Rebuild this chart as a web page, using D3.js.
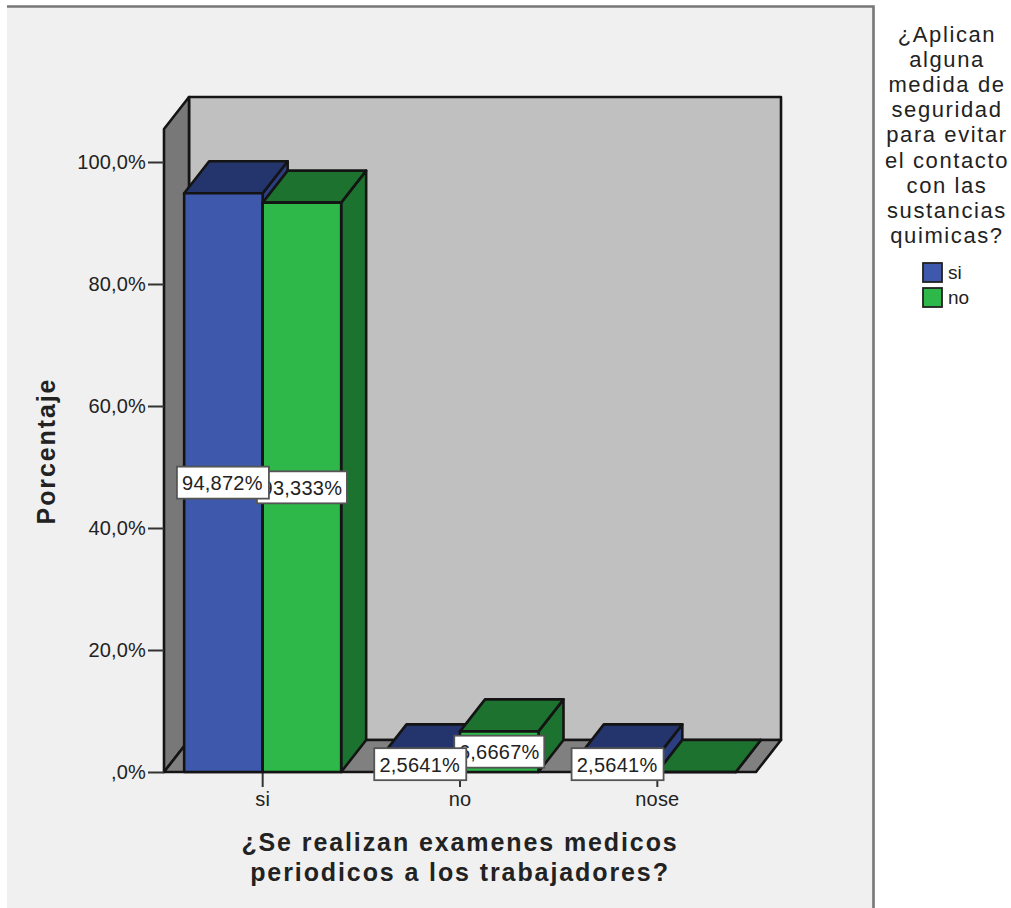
<!DOCTYPE html>
<html><head><meta charset="utf-8">
<script src="https://cdn.jsdelivr.net/npm/d3@7"></script>
<style>html,body{margin:0;padding:0;background:#fff}svg{display:block}text{font-family:"Liberation Sans",Arial,sans-serif;fill:#222}</style>
</head><body><div id="c"></div>
<script>
const categories=["si","no","nose"];
const seriesNames=["si","no"];
const siValues=[94.872,2.5641,2.5641];
const noValues=[93.333,6.6667,0];
const valueLabelsSi=["94,872%","2,5641%","2,5641%"];
const valueLabelsNo=["93,333%","6,6667%",null];
const yTicks=[0,20,40,60,80,100];
const legendTitle=["¿Aplican","alguna","medida de","seguridad","para evitar","el contacto","con las","sustancias","quimicas?"];
const xTitle=["¿Se realizan examenes medicos","periodicos a los trabajadores?"];
const yTitle="Porcentaje";

const W=1011,H=908,dx=25,dy=-32,dark="#141414";
const svg=d3.select("#c").append("svg").attr("width",W).attr("height",H);
const x=d3.scaleBand().domain(categories).range([164,756]);
const xs=d3.scaleBand().domain(seriesNames).range([x.bandwidth()/2-78.5,x.bandwidth()/2+78.5]);
const y=d3.scaleLinear().domain([0,100]).range([772,162]);
const yTop=105.4;
const fmtTick=d=>d===0?",0%":d3.format(".1f")(d).replace(".",",")+"%";
const poly=(pts,fill,g=svg)=>g.append("polygon").attr("points",pts.map(p=>p.join(",")).join(" "))
  .attr("fill",fill).attr("stroke",dark).attr("stroke-width",2.6).attr("stroke-linejoin","round");

// frame
svg.append("rect").attr("x",7).attr("y",6).attr("width",867).attr("height",H).attr("fill","#f0f0f0");
svg.append("path").attr("d",`M7,6.5H873.5V${H}`).attr("fill","none").attr("stroke","#777").attr("stroke-width",2.6);

// 3D box
const [xL,xR]=x.range(), y0=y(0), yT=y(yTop);
poly([[xL+dx,y0+dy],[xR+dx,y0+dy],[xR+dx,yT+dy],[xL+dx,yT+dy]],"#c0c0c0");
poly([[xL,y0],[xL+dx,y0+dy],[xL+dx,yT+dy],[xL,yT]],"#787878");
poly([[xL,y0],[xR,y0],[xR+dx,y0+dy],[xL+dx,y0+dy]],"#808080");

// axes
const yAxis=d3.axisLeft(y).tickValues(yTicks).tickFormat(fmtTick).tickSize(16).tickPadding(2);
const ga=svg.append("g").attr("transform",`translate(${xL},0)`).call(yAxis);
ga.select(".domain").remove();
ga.selectAll("line").attr("stroke","#333").attr("stroke-width",2);
ga.selectAll("text").attr("font-size",20).attr("letter-spacing",0.15).style("fill","#222");
const xAxis=d3.axisBottom(x).tickSize(15).tickPadding(5);
const gb=svg.append("g").attr("transform",`translate(0,${y0})`).call(xAxis);
gb.select(".domain").remove();
gb.selectAll("line").attr("stroke","#333").attr("stroke-width",2);
gb.selectAll("text").attr("font-size",20).attr("letter-spacing",0.15).style("fill","#222");

// bars
const colors={si:{front:"#3e58ac",top:"#24356d",side:"#2b3e80"},no:{front:"#2eb84a",top:"#1c722e",side:"#1c732f"}};
const seriesData=[{name:"si",values:siValues,labels:valueLabelsSi},{name:"no",values:noValues,labels:valueLabelsNo}];
categories.forEach((cat,i)=>{
  seriesData.forEach(s=>{
    const v=s.values[i],c=colors[s.name];
    const a=x(cat)+xs(s.name),b=a+xs.bandwidth(),t=y(v);
    poly([[b,y0],[b+dx,y0+dy],[b+dx,t+dy],[b,t]],c.side);
    poly([[a,t],[b,t],[b+dx,t+dy],[a+dx,t+dy]],c.top);
    poly([[a,y0],[b,y0],[b,t],[a,t]],c.front);
  });
});

// value labels, second series beneath the first
[seriesData[1],seriesData[0]].forEach(s=>{
  categories.forEach((cat,i)=>{
    const lab=s.labels[i]; if(!lab) return;
    const cx=x(cat)+xs(s.name)+xs.bandwidth()/2-(s.name==="si"?0.5:0), cy=(y(s.values[i])+y0)/2;
    const bw=s.name==="si"?92:90,bh=32;
    svg.append("rect").attr("x",cx-bw/2).attr("y",cy-bh/2).attr("width",bw).attr("height",bh)
      .attr("fill","#fff").attr("stroke","#555").attr("stroke-width",1.8);
    svg.append("text").attr("x",cx-(s.name==="si"?0.5:0)).attr("y",cy+7.5).attr("text-anchor","middle")
      .attr("font-size",20).attr("letter-spacing",0.25).text(lab);
  });
});

// titles
svg.append("text").attr("transform","translate(55,451) rotate(-90)").attr("text-anchor","middle")
  .attr("font-size",25).attr("font-weight","bold").attr("letter-spacing",1.9).text(yTitle);
xTitle.forEach((t,i)=>svg.append("text").attr("x",460).attr("y",851+i*30).attr("text-anchor","middle")
  .attr("font-size",25).attr("font-weight","bold").attr("letter-spacing",1.9).text(t));

// legend
legendTitle.forEach((t,i)=>svg.append("text").attr("x",947).attr("y",42+i*25.1).attr("text-anchor","middle")
  .attr("font-size",22).attr("letter-spacing",1.6).text(t));
const ly=d3.scalePoint().domain(seriesNames).range([263,288]);
seriesNames.forEach(n=>{
  svg.append("rect").attr("x",923).attr("y",ly(n)).attr("width",19).attr("height",19)
    .attr("fill",colors[n].front).attr("stroke","#222").attr("stroke-width",1.8);
  svg.append("text").attr("x",948).attr("y",ly(n)+16).attr("font-size",19).text(n);
});
</script></body></html>
